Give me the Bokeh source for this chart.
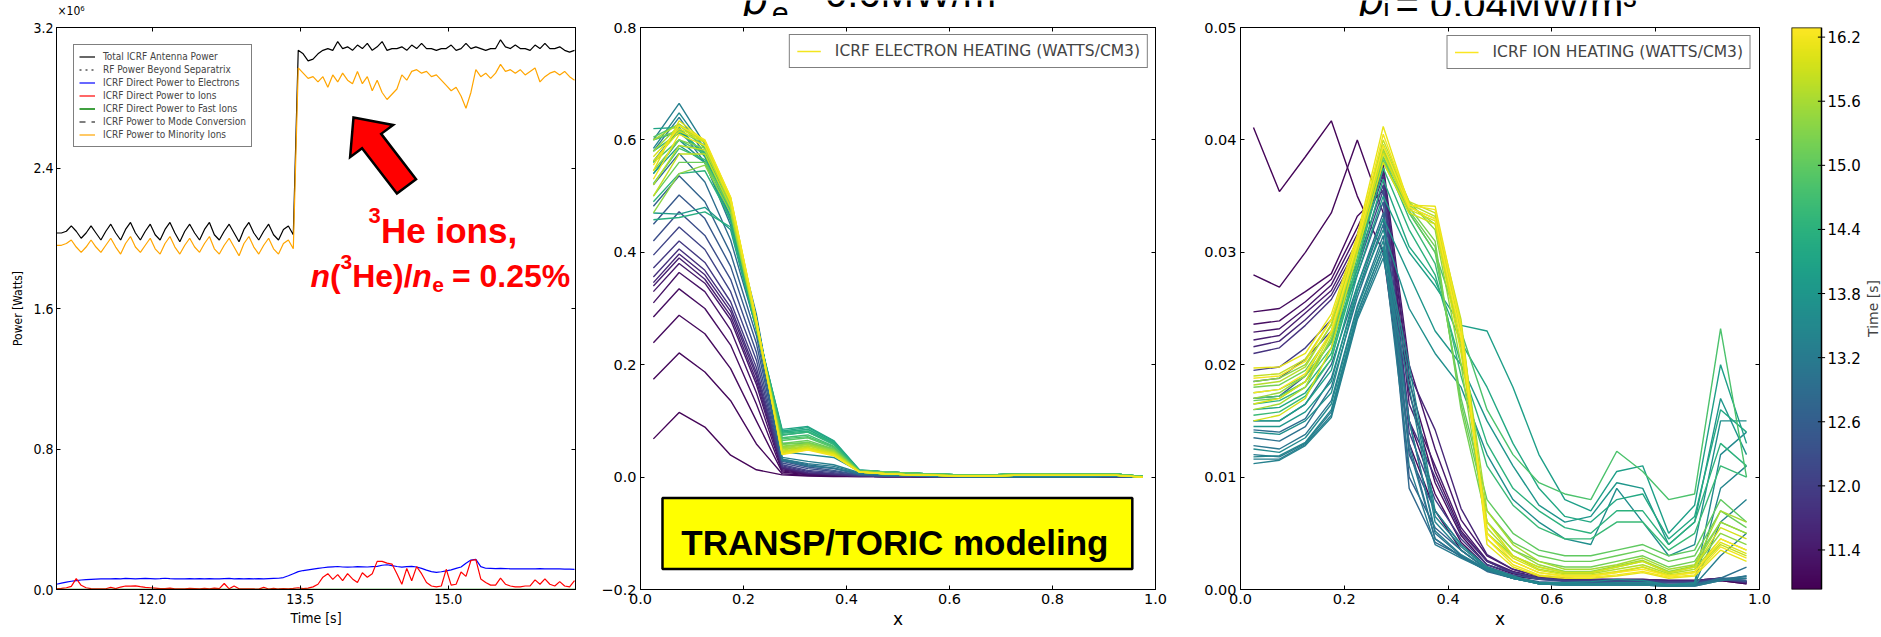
import numpy as np
from bokeh.plotting import figure
from bokeh.layouts import row, column
from bokeh.models import (Range1d, FixedTicker, PrintfTickFormatter, CustomJSTickFormatter,
                          LinearAxis, Legend, LegendItem, Label, BoxAnnotation,
                          LinearColorMapper, ColumnDataSource)
from bokeh.palettes import Viridis256
from bokeh.core.properties import value
from bokeh.embed import file_html
from bokeh.resources import INLINE

# ---------------- panel 1 data (power in units of 1e6 W) ----------------
time_s = [11.03, 11.08, 11.13, 11.18, 11.23, 11.28, 11.33, 11.38, 11.43, 11.48,
          11.53, 11.58, 11.63, 11.68, 11.73, 11.78, 11.83, 11.88, 11.93, 11.98,
          12.03, 12.08, 12.13, 12.18, 12.23, 12.28, 12.33, 12.38, 12.43, 12.48,
          12.53, 12.58, 12.63, 12.68, 12.73, 12.78, 12.83, 12.88, 12.93, 12.98,
          13.03, 13.08, 13.13, 13.18, 13.23, 13.28, 13.33, 13.38, 13.43, 13.48,
          13.53, 13.58, 13.63, 13.68, 13.73, 13.78, 13.83, 13.88, 13.93, 13.98,
          14.03, 14.08, 14.13, 14.18, 14.23, 14.28, 14.33, 14.38, 14.43, 14.48,
          14.53, 14.58, 14.63, 14.68, 14.73, 14.78, 14.83, 14.88, 14.93, 14.98,
          15.03, 15.08, 15.13, 15.18, 15.23, 15.28, 15.33, 15.38, 15.43, 15.48,
          15.53, 15.58, 15.63, 15.68, 15.73, 15.78, 15.83, 15.88, 15.93, 15.98,
          16.03, 16.08, 16.13, 16.18, 16.23, 16.28]

total_power = [2.03, 2.03, 2.04, 2.07, 2.04, 2.00, 2.03, 2.07, 2.03, 1.99,
               2.04, 2.08, 2.03, 1.99, 2.05, 2.09, 2.03, 1.99, 2.04, 2.08,
               2.02, 1.99, 2.05, 2.09, 2.03, 1.98, 2.04, 2.08, 2.03, 1.99,
               2.05, 2.09, 2.02, 1.99, 2.04, 2.08, 2.03, 1.98, 2.05, 2.09,
               2.03, 1.99, 2.04, 2.08, 2.02, 1.99, 2.05, 2.07, 2.02, 3.07,
               3.05, 3.01, 3.02, 3.05, 3.07, 3.08, 3.07, 3.12, 3.08, 3.09,
               3.07, 3.10, 3.08, 3.11, 3.07, 3.09, 3.12, 3.07, 3.08, 3.08,
               3.09, 3.07, 3.10, 3.08, 3.11, 3.08, 3.08, 3.07, 3.08, 3.08,
               3.10, 3.07, 3.08, 3.11, 3.08, 3.09, 3.08, 3.07, 3.08, 3.08,
               3.13, 3.09, 3.08, 3.10, 3.08, 3.08, 3.07, 3.10, 3.08, 3.11,
               3.08, 3.08, 3.09, 3.07, 3.06, 3.07]

minority_power = [1.96, 1.96, 1.97, 1.99, 1.95, 1.92, 1.95, 1.99, 1.95, 1.92,
                  1.96, 2.00, 1.95, 1.91, 1.97, 2.01, 1.95, 1.92, 1.96, 2.00,
                  1.94, 1.91, 1.97, 2.01, 1.95, 1.91, 1.96, 2.00, 1.95, 1.92,
                  1.97, 2.01, 1.94, 1.91, 1.96, 2.00, 1.95, 1.90, 1.97, 2.01,
                  1.95, 1.91, 1.96, 2.00, 1.94, 1.91, 1.97, 1.99, 1.94, 2.97,
                  2.94, 2.91, 2.92, 2.89, 2.92, 2.86, 2.93, 2.89, 2.94, 2.90,
                  2.88, 2.95, 2.88, 2.92, 2.84, 2.90, 2.83, 2.79, 2.82, 2.85,
                  2.93, 2.90, 2.95, 2.96, 2.94, 2.95, 2.92, 2.93, 2.90, 2.87,
                  2.84, 2.86, 2.81, 2.74, 2.83, 2.96, 2.92, 2.94, 2.91, 2.94,
                  2.99, 2.95, 2.96, 2.94, 2.96, 2.93, 2.95, 2.97, 2.89, 2.92,
                  2.94, 2.95, 2.93, 2.95, 2.92, 2.90]

electron_power = [0.030, 0.036, 0.042, 0.047, 0.051, 0.054, 0.056, 0.058, 0.059, 0.060,
                  0.061, 0.060, 0.062, 0.061, 0.063, 0.062, 0.061, 0.062, 0.063, 0.062,
                  0.061, 0.062, 0.064, 0.062, 0.061, 0.060, 0.061, 0.062, 0.061, 0.062,
                  0.061, 0.062, 0.061, 0.060, 0.062, 0.063, 0.061, 0.062, 0.061, 0.062,
                  0.061, 0.062, 0.061, 0.062, 0.063, 0.064, 0.068, 0.078, 0.090, 0.102,
                  0.108, 0.112, 0.116, 0.120, 0.124, 0.127, 0.129, 0.131, 0.128, 0.127,
                  0.128, 0.130, 0.129, 0.128, 0.130, 0.132, 0.138, 0.141, 0.136, 0.131,
                  0.127, 0.130, 0.132, 0.128, 0.120, 0.110, 0.102, 0.098, 0.101, 0.106,
                  0.112, 0.120, 0.128, 0.150, 0.168, 0.172, 0.130, 0.121, 0.120, 0.119,
                  0.120, 0.119, 0.118, 0.117, 0.118, 0.118, 0.117, 0.118, 0.119, 0.118,
                  0.117, 0.118, 0.117, 0.116, 0.116, 0.115]

ion_power = [0.004, 0.006, 0.010, 0.018, 0.062, 0.024, 0.010, 0.005, 0.003, 0.003,
             0.004, 0.012, 0.005, 0.014, 0.020, 0.019, 0.021, 0.016, 0.012, 0.010,
             0.008, 0.005, 0.005, 0.008, 0.004, 0.003, 0.004, 0.006, 0.005, 0.004,
             0.006, 0.004, 0.008, 0.005, 0.034, 0.004, 0.020, 0.004, 0.003, 0.004,
             0.003, 0.002, 0.012, 0.003, 0.006, 0.003, 0.005, 0.004, 0.006, 0.010,
             0.005, 0.008, 0.015, 0.030, 0.070, 0.090, 0.058, 0.085, 0.050, 0.090,
             0.060, 0.040, 0.095, 0.070, 0.090, 0.160, 0.160, 0.150, 0.145, 0.090,
             0.030, 0.120, 0.050, 0.130, 0.090, 0.040, 0.020, 0.015, 0.020, 0.115,
             0.025, 0.030, 0.100, 0.075, 0.165, 0.170, 0.060, 0.040, 0.025, 0.025,
             0.065, 0.030, 0.020, 0.015, 0.015, 0.020, 0.020, 0.055, 0.030, 0.060,
             0.030, 0.020, 0.045, 0.020, 0.015, 0.050]

edge_times = [11.03, 16.29]
separatrix_power = [0.0, 0.0]
fast_ion_power = [0.0, 0.0]
mode_conversion_power = [0.0, 0.0]

# ---------------- panels 2 & 3 data ----------------
rho = [0.025, 0.075, 0.125, 0.175, 0.225, 0.275, 0.325, 0.375, 0.425, 0.475,
       0.525, 0.575, 0.625, 0.675, 0.725, 0.775, 0.825, 0.875, 0.925, 0.975]

ele_times = [11.10, 11.14, 11.18, 11.22, 11.30, 11.40, 11.50, 11.60, 11.75, 11.90,
             12.10, 12.30, 12.50, 12.70, 12.90, 13.10, 13.20, 13.30, 13.50, 13.60,
             13.70, 13.90, 14.00, 14.10, 14.20, 14.30, 14.40, 14.50, 14.70, 14.80,
             14.90, 15.10, 15.20, 15.30, 15.40, 15.50, 15.60, 15.70, 15.80, 15.90,
             16.00, 16.05, 16.15, 16.20]

ele_profiles = [
    [.068, .115, .089, .039, .013, .004, .002, .001, .001, .001, .001, .000, .000, .000, .000, .000, .000, .000, .000, .000],
    [.174, .221, .187, .136, .059, .006, .003, .002, .001, .001, .001, .000, .000, .000, .000, .000, .000, .000, .000, .000],
    [.239, .288, .255, .193, .100, .009, .004, .003, .002, .001, .001, .000, .000, .000, .000, .000, .000, .000, .000, .000],
    [.285, .335, .300, .235, .130, .011, .005, .003, .002, .001, .001, .000, .000, .000, .000, .000, .000, .000, .000, .000],
    [.310, .364, .330, .262, .150, .013, .006, .004, .002, .001, .001, .000, .000, .000, .000, .000, .000, .000, .000, .000],
    [.330, .380, .345, .280, .165, .015, .006, .004, .002, .001, .001, .000, .000, .000, .000, .000, .000, .000, .000, .000],
    [.340, .390, .352, .287, .172, .016, .007, .004, .002, .001, .001, .000, .000, .000, .000, .000, .000, .000, .000, .000],
    [.346, .397, .360, .295, .180, .017, .007, .005, .002, .001, .001, .000, .000, .000, .000, .000, .000, .000, .000, .000],
    [.356, .406, .368, .302, .186, .018, .008, .005, .002, .001, .001, .000, .000, .000, .000, .000, .000, .000, .000, .000],
    [.372, .420, .382, .312, .195, .020, .010, .006, .003, .002, .002, .001, .001, .001, .001, .001, .001, .001, .001, .000],
    [.395, .445, .405, .330, .208, .022, .012, .008, .003, .002, .002, .001, .001, .001, .001, .001, .001, .001, .001, .000],
    [.420, .472, .430, .352, .222, .025, .015, .010, .004, .002, .002, .001, .001, .001, .001, .001, .001, .001, .001, .000],
    [.450, .502, .460, .375, .238, .028, .018, .012, .004, .002, .002, .001, .001, .001, .001, .001, .001, .001, .001, .000],
    [.482, .536, .490, .398, .252, .030, .020, .015, .005, .002, .002, .001, .001, .001, .001, .001, .001, .001, .001, .000],
    [.520, .576, .525, .422, .265, .032, .022, .016, .006, .004, .003, .002, .001, .001, .001, .001, .001, .001, .002, .000],
    [.562, .620, .560, .448, .278, .030, .020, .016, .006, .004, .003, .002, .001, .001, .001, .001, .001, .001, .002, .000],
    [.580, .640, .575, .460, .284, .032, .024, .019, .007, .004, .003, .002, .001, .001, .001, .001, .001, .001, .002, .000],
    [.600, .665, .592, .472, .290, .035, .028, .022, .008, .004, .003, .002, .001, .001, .001, .001, .001, .001, .002, .000],
    [.585, .648, .585, .470, .285, .045, .040, .035, .010, .004, .003, .002, .001, .001, .001, .001, .001, .001, .002, .000],
    [.560, .620, .570, .462, .280, .052, .050, .042, .011, .009, .007, .005, .004, .004, .005, .006, .005, .005, .005, .001],
    [.540, .600, .560, .458, .275, .060, .060, .050, .012, .009, .007, .005, .004, .004, .005, .006, .005, .005, .005, .001],
    [.470, .468, .480, .440, .262, .075, .080, .060, .012, .009, .007, .005, .004, .004, .005, .006, .005, .005, .005, .001],
    [.540, .590, .560, .455, .270, .080, .085, .062, .012, .009, .007, .005, .004, .004, .005, .006, .005, .005, .005, .001],
    [.620, .622, .572, .470, .268, .085, .090, .065, .013, .009, .007, .005, .004, .004, .005, .006, .005, .005, .005, .001],
    [.600, .615, .575, .470, .270, .082, .088, .064, .012, .009, .007, .005, .004, .004, .005, .006, .005, .005, .005, .001],
    [.458, .462, .472, .445, .262, .080, .085, .062, .012, .009, .007, .005, .004, .004, .005, .006, .005, .005, .005, .001],
    [.490, .540, .545, .460, .266, .078, .082, .060, .012, .009, .007, .005, .004, .004, .005, .006, .005, .005, .005, .001],
    [.580, .612, .578, .480, .270, .075, .080, .058, .012, .009, .007, .005, .004, .004, .005, .006, .005, .005, .005, .001],
    [.522, .585, .565, .475, .268, .070, .075, .055, .011, .009, .007, .005, .004, .004, .005, .006, .005, .005, .005, .001],
    [.560, .600, .575, .478, .270, .068, .072, .054, .011, .009, .007, .005, .004, .004, .005, .006, .005, .005, .005, .001],
    [.605, .628, .585, .485, .272, .065, .070, .052, .011, .009, .007, .005, .004, .004, .005, .006, .005, .005, .005, .001],
    [.500, .560, .560, .478, .270, .060, .065, .050, .011, .009, .007, .005, .004, .004, .005, .006, .005, .005, .005, .001],
    [.600, .618, .590, .485, .274, .058, .062, .049, .010, .006, .004, .003, .002, .002, .003, .003, .003, .003, .003, .000],
    [.545, .600, .585, .488, .272, .055, .060, .048, .010, .006, .004, .003, .002, .002, .003, .003, .003, .003, .003, .000],
    [.470, .540, .555, .470, .268, .054, .059, .047, .010, .006, .004, .003, .002, .002, .003, .003, .003, .003, .003, .000],
    [.580, .625, .595, .492, .275, .052, .058, .046, .010, .006, .004, .003, .002, .002, .003, .003, .003, .003, .003, .000],
    [.600, .628, .597, .492, .276, .050, .056, .045, .010, .006, .004, .003, .002, .002, .003, .003, .003, .003, .003, .000],
    [.520, .590, .582, .488, .272, .048, .055, .044, .010, .006, .004, .003, .002, .002, .003, .003, .003, .003, .003, .000],
    [.500, .575, .575, .480, .270, .046, .053, .043, .009, .006, .004, .003, .002, .002, .003, .003, .003, .003, .003, .000],
    [.562, .615, .596, .495, .278, .045, .052, .042, .009, .006, .004, .003, .002, .002, .003, .003, .003, .003, .003, .000],
    [.570, .620, .598, .495, .279, .044, .051, .041, .009, .006, .004, .003, .002, .002, .003, .003, .003, .003, .003, .000],
    [.545, .634, .598, .498, .280, .042, .050, .040, .009, .006, .004, .003, .002, .002, .003, .003, .003, .003, .003, .000],
    [.530, .610, .590, .490, .276, .041, .049, .039, .009, .006, .004, .003, .002, .002, .003, .003, .003, .003, .003, .000],
    [.555, .626, .600, .498, .280, .040, .048, .038, .009, .006, .004, .003, .002, .002, .003, .003, .003, .003, .003, .000],
]

ion_times = [11.10, 11.14, 11.18, 11.25, 11.35, 11.45, 11.60, 11.80, 12.00, 12.30,
             12.60, 12.80, 12.90, 13.00, 13.10, 13.20, 13.28, 13.35, 13.42, 13.50,
             13.65, 13.80, 14.00, 14.20, 14.40, 14.60, 14.80, 15.00, 15.10, 15.20,
             15.40, 15.50, 15.60, 15.70, 15.80, 15.95, 16.00, 16.10, 16.20, 16.25]

ion_profiles = [
    [.0411, .0354, .0385, .0417, .0350, .0300, .0130, .0070, .0035, .0018, .0012, .0009, .0008, .0008, .0008, .0008, .0007, .0007, .0008, .0005],
    [.0280, .0269, .0300, .0335, .0400, .0335, .0150, .0085, .0042, .0020, .0012, .0010, .0008, .0008, .0008, .0008, .0007, .0007, .0008, .0005],
    [.0247, .0250, .0265, .0281, .0332, .0355, .0175, .0095, .0048, .0022, .0014, .0010, .0008, .0008, .0008, .0008, .0007, .0007, .0009, .0006],
    [.0236, .0239, .0256, .0276, .0322, .0370, .0185, .0105, .0052, .0025, .0015, .0010, .0008, .0008, .0008, .0008, .0007, .0007, .0009, .0006],
    [.0229, .0232, .0250, .0271, .0316, .0378, .0200, .0125, .0062, .0030, .0018, .0012, .0010, .0009, .0009, .0009, .0008, .0008, .0010, .0007],
    [.0222, .0226, .0246, .0266, .0310, .0376, .0165, .0110, .0055, .0026, .0016, .0011, .0009, .0009, .0009, .0009, .0008, .0008, .0010, .0007],
    [.0216, .0221, .0240, .0262, .0305, .0372, .0192, .0142, .0072, .0031, .0018, .0012, .0010, .0009, .0009, .0009, .0008, .0008, .0010, .0007],
    [.0210, .0215, .0235, .0258, .0300, .0368, .0150, .0100, .0050, .0025, .0015, .0010, .0008, .0008, .0008, .0008, .0007, .0007, .0009, .0006],
    [.0195, .0198, .0215, .0240, .0290, .0360, .0140, .0080, .0045, .0022, .0015, .0010, .0008, .0008, .0008, .0008, .0007, .0007, .0010, .0008],
    [.0185, .0188, .0205, .0230, .0285, .0355, .0120, .0070, .0040, .0020, .0013, .0009, .0007, .0007, .0007, .0007, .0006, .0006, .0009, .0007],
    [.0170, .0172, .0190, .0220, .0280, .0345, .0100, .0055, .0035, .0018, .0011, .0007, .0006, .0006, .0006, .0006, .0005, .0005, .0009, .0008],
    [.0150, .0150, .0165, .0200, .0270, .0335, .0090, .0042, .0030, .0016, .0010, .0006, .0005, .0005, .0005, .0005, .0004, .0004, .0010, .0010],
    [.0142, .0140, .0152, .0188, .0265, .0330, .0130, .0045, .0029, .0017, .0010, .0006, .0005, .0005, .0005, .0005, .0004, .0004, .0009, .0012],
    [.0135, .0132, .0145, .0180, .0260, .0325, .0150, .0050, .0030, .0018, .0010, .0006, .0005, .0005, .0005, .0005, .0004, .0004, .0010, .0020],
    [.0128, .0125, .0138, .0168, .0252, .0315, .0125, .0045, .0029, .0017, .0010, .0005, .0004, .0004, .0004, .0004, .0003, .0003, .0008, .0012],
    [.0120, .0118, .0130, .0158, .0245, .0305, .0110, .0040, .0028, .0017, .0010, .0005, .0004, .0004, .0004, .0004, .0003, .0003, .0008, .0010],
    [.0116, .0116, .0129, .0155, .0242, .0300, .0150, .0052, .0031, .0018, .0010, .0005, .0004, .0004, .0004, .0004, .0003, .0004, .0030, .0050],
    [.0112, .0115, .0128, .0153, .0240, .0295, .0180, .0060, .0035, .0018, .0010, .0005, .0004, .0004, .0004, .0004, .0003, .0004, .0060, .0080],
    [.0118, .0119, .0131, .0160, .0246, .0305, .0190, .0065, .0038, .0019, .0011, .0005, .0005, .0005, .0006, .0006, .0004, .0005, .0090, .0110],
    [.0125, .0122, .0135, .0165, .0250, .0310, .0200, .0070, .0040, .0020, .0012, .0006, .0006, .0007, .0009, .0008, .0004, .0006, .0120, .0140],
    [.0140, .0138, .0150, .0175, .0265, .0320, .0250, .0210, .0180, .0120, .0080, .0060, .0045, .0040, .0090, .0060, .0030, .0040, .0150, .0150],
    [.0145, .0145, .0158, .0185, .0270, .0330, .0280, .0230, .0200, .0150, .0110, .0075, .0060, .0065, .0095, .0090, .0040, .0060, .0170, .0120],
    [.0150, .0150, .0165, .0195, .0280, .0350, .0300, .0270, .0235, .0230, .0180, .0120, .0080, .0070, .0105, .0110, .0050, .0075, .0200, .0130],
    [.0160, .0162, .0175, .0205, .0285, .0365, .0305, .0275, .0220, .0180, .0130, .0090, .0065, .0060, .0080, .0085, .0045, .0065, .0160, .0140],
    [.0165, .0168, .0180, .0210, .0290, .0375, .0320, .0280, .0200, .0130, .0090, .0070, .0055, .0050, .0070, .0070, .0040, .0060, .0130, .0110],
    [.0155, .0158, .0172, .0205, .0290, .0385, .0330, .0290, .0190, .0110, .0075, .0055, .0045, .0045, .0060, .0060, .0035, .0050, .0110, .0100],
    [.0170, .0172, .0185, .0215, .0295, .0390, .0335, .0300, .0230, .0160, .0120, .0095, .0085, .0080, .0123, .0105, .0080, .0085, .0232, .0100],
    [.0175, .0178, .0190, .0220, .0300, .0380, .0335, .0300, .0170, .0080, .0050, .0035, .0030, .0030, .0035, .0040, .0030, .0035, .0080, .0060],
    [.0168, .0170, .0185, .0222, .0302, .0382, .0337, .0305, .0165, .0070, .0042, .0030, .0025, .0025, .0030, .0035, .0025, .0030, .0070, .0055],
    [.0180, .0182, .0195, .0228, .0305, .0385, .0340, .0310, .0160, .0060, .0035, .0025, .0020, .0020, .0025, .0030, .0020, .0025, .0060, .0050],
    [.0185, .0188, .0200, .0235, .0310, .0395, .0345, .0320, .0200, .0050, .0030, .0020, .0015, .0015, .0020, .0025, .0015, .0020, .0050, .0040],
    [.0170, .0175, .0190, .0230, .0308, .0392, .0342, .0325, .0215, .0060, .0035, .0022, .0016, .0016, .0021, .0026, .0016, .0021, .0060, .0050],
    [.0160, .0165, .0180, .0225, .0305, .0390, .0340, .0330, .0230, .0070, .0040, .0025, .0018, .0018, .0022, .0028, .0018, .0022, .0070, .0060],
    [.0182, .0185, .0198, .0236, .0310, .0396, .0343, .0332, .0235, .0055, .0030, .0018, .0014, .0014, .0018, .0022, .0014, .0018, .0045, .0035],
    [.0190, .0192, .0205, .0240, .0312, .0400, .0345, .0335, .0240, .0045, .0025, .0015, .0012, .0012, .0015, .0020, .0012, .0015, .0040, .0030],
    [.0150, .0155, .0170, .0215, .0300, .0380, .0335, .0325, .0210, .0060, .0030, .0020, .0015, .0015, .0020, .0025, .0015, .0020, .0055, .0045],
    [.0165, .0170, .0185, .0228, .0305, .0388, .0338, .0328, .0220, .0050, .0028, .0017, .0013, .0013, .0016, .0020, .0013, .0016, .0042, .0032],
    [.0197, .0198, .0210, .0245, .0315, .0412, .0342, .0341, .0235, .0040, .0020, .0012, .0010, .0010, .0012, .0015, .0010, .0012, .0035, .0025],
    [.0188, .0190, .0203, .0240, .0312, .0405, .0342, .0338, .0232, .0045, .0022, .0013, .0011, .0011, .0013, .0016, .0011, .0013, .0038, .0028],
    [.0175, .0178, .0192, .0230, .0308, .0395, .0340, .0330, .0225, .0050, .0025, .0015, .0012, .0012, .0015, .0018, .0012, .0015, .0045, .0035],
]

colorbar_range = [11.03, 16.29]
colorbar_ticks = [11.4, 12.0, 12.6, 13.2, 13.8, 14.4, 15.0, 15.6, 16.2]

# ---------------- styling helpers ----------------
MPL = "DejaVu Sans"
COND = "DejaVu Sans Condensed"
ARIAL = "Liberation Sans"
STRIP_H = 16          # thin strip on top holding the (cut-off) panel titles
ROW_H = 637 - STRIP_H
PROFILE_LW = 1.4


def style_fig(p):
    p.xgrid.grid_line_color = None
    p.ygrid.grid_line_color = None
    p.outline_line_color = "black"
    p.outline_line_alpha = 1.0
    p.outline_line_width = 1
    p.background_fill_color = "white"
    p.border_fill_color = "white"


def style_axis(ax, ticks, formatter=None, font=MPL, size="14px", labels=True):
    ax.ticker = FixedTicker(ticks=ticks)
    ax.minor_tick_line_color = None
    ax.major_tick_in = 4
    ax.major_tick_out = 0
    ax.major_tick_line_color = "black"
    ax.axis_line_color = "black"
    if labels:
        if formatter is not None:
            ax.formatter = formatter
        ax.major_label_text_font = font
        ax.major_label_text_font_size = size
        ax.major_label_text_color = "black"
        ax.major_label_standoff = 4
    else:
        ax.formatter = CustomJSTickFormatter(code="return '';")
        ax.major_label_text_font_size = "0px"
        ax.major_label_standoff = 0


def mirror_axes(p, xticks, yticks):
    top = LinearAxis()
    style_axis(top, xticks, labels=False)
    right = LinearAxis()
    style_axis(right, yticks, labels=False)
    p.add_layout(top, "above")
    p.add_layout(right, "right")


def axis_label(ax, text, font, size, standoff):
    ax.axis_label = text
    ax.axis_label_text_font = font
    ax.axis_label_text_font_size = size
    ax.axis_label_text_font_style = "normal"
    ax.axis_label_text_color = "black"
    ax.axis_label_standoff = standoff


# ---------------- panel 1 ----------------
X1 = (11.03, 16.29)
Y1 = (0.0, 3.2)
p1 = figure(width=590, height=ROW_H, x_range=Range1d(*X1), y_range=Range1d(*Y1),
            min_border_left=56, min_border_right=15, min_border_top=25 - STRIP_H,
            min_border_bottom=43, toolbar_location=None, output_backend="svg")
style_fig(p1)
x1ticks = [12.0, 13.5, 15.0]
y1ticks = [0.0, 0.8, 1.6, 2.4, 3.2]
style_axis(p1.xaxis[0], x1ticks, PrintfTickFormatter(format="%.1f"), COND, "14px")
style_axis(p1.yaxis[0], y1ticks, PrintfTickFormatter(format="%.1f"), COND, "14px")
p1.yaxis[0].major_label_standoff = 3
axis_label(p1.xaxis[0], "Time [s]", COND, "14px", 3)
axis_label(p1.yaxis[0], "Power [Watts]", COND, "12px", 5)
mirror_axes(p1, x1ticks, y1ticks)

r_total = p1.line(time_s, total_power, line_color="black", line_width=1.2)
r_sep = p1.line(edge_times, separatrix_power, line_color="black", line_dash="dotted", line_width=1.2)
r_ele = p1.line(time_s, electron_power, line_color="#0000ff", line_width=1.2)
r_ion = p1.line(time_s, ion_power, line_color="#ff0000", line_width=1.2)
r_fast = p1.line(edge_times, fast_ion_power, line_color="#008000", line_width=1.5)
r_mc = p1.line(edge_times, mode_conversion_power, line_color="black", line_dash="dashed", line_width=1.2)
r_min = p1.line(time_s, minority_power, line_color="#ffa500", line_width=1.2)

leg1 = Legend(items=[
    LegendItem(label="Total ICRF Antenna Power", renderers=[r_total]),
    LegendItem(label="RF Power Beyond Separatrix", renderers=[r_sep]),
    LegendItem(label="ICRF Direct Power to Electrons", renderers=[r_ele]),
    LegendItem(label="ICRF Direct Power to Ions", renderers=[r_ion]),
    LegendItem(label="ICRF Direct Power to Fast Ions", renderers=[r_fast]),
    LegendItem(label="ICRF Power to Mode Conversion", renderers=[r_mc]),
    LegendItem(label="ICRF Power to Minority Ions", renderers=[r_min]),
], location="top_left", margin=17, padding=5, spacing=0, label_height=13, glyph_height=13,
    glyph_width=16, label_standoff=8, label_text_font=COND, label_text_font_size="10px",
    border_line_color="black", border_line_width=1.2, background_fill_color="white",
    background_fill_alpha=1.0)
p1.add_layout(leg1)

# red arrow (tip/tail in data coordinates, widths in pixels)
F1_W, F1_H = 519.0, 569.0
arrow_tip = (14.04, 2.688)
arrow_tail = (14.577, 2.295)


def d2p(t, v):
    return np.array([(t - X1[0]) / (X1[1] - X1[0]) * F1_W, v / (Y1[1] - Y1[0]) * F1_H])


def p2d(pt):
    return (X1[0] + pt[0] / F1_W * (X1[1] - X1[0]), pt[1] / F1_H * (Y1[1] - Y1[0]))


tip = d2p(*arrow_tip)
tail = d2p(*arrow_tail)
dvec = (tip - tail) / np.linalg.norm(tip - tail)
nvec = np.array([-dvec[1], dvec[0]])
shaft_half, head_half, head_len = 12.0, 27.0, 30.0
base = tip - dvec * head_len
poly_px = [tail + nvec * shaft_half, base + nvec * shaft_half, base + nvec * head_half, tip,
           base - nvec * head_half, base - nvec * shaft_half, tail - nvec * shaft_half]
poly = [p2d(q) for q in poly_px]
p1.patch([q[0] for q in poly], [q[1] for q in poly], fill_color="#ff0000",
         line_color="black", line_width=2.5, line_join="miter")

RED = "#ff0000"
line1_anchor = (14.192, 2.046)
line2_anchor = (13.604, 1.785)
for anchor, pieces in [
        (line1_anchor, [("3", 0, 15, "bold", "22px"),
                        ("He ions,", 12.5, 0, "bold", "35px")]),
        (line2_anchor, [("n", 0, 0, "bold italic", "32px"),
                        ("(", 19.5, 0, "bold", "32px"),
                        ("3", 30, 14, "bold", "21px"),
                        ("He)/", 41.7, 0, "bold", "32px"),
                        ("n", 101.8, 0, "bold italic", "32px"),
                        ("e", 121.7, -9, "bold", "21px"),
                        ("= 0.25%", 141.5, 0, "bold", "32px")])]:
    for txt, dx, dy, style, size in pieces:
        p1.add_layout(Label(x=anchor[0], y=anchor[1], x_offset=dx, y_offset=dy, text=txt,
                            text_font=ARIAL, text_font_style=style, text_font_size=size,
                            text_color=RED, text_baseline="alphabetic"))

# ---------------- shared colour mapping ----------------
mapper = LinearColorMapper(palette=Viridis256, low=colorbar_range[0], high=colorbar_range[1])
xprof_ticks = [0.0, 0.2, 0.4, 0.6, 0.8, 1.0]

# ---------------- panel 2 ----------------
p2 = figure(width=600, height=ROW_H, x_range=Range1d(0, 1), y_range=Range1d(-0.2, 0.8),
            min_border_left=50, min_border_right=35, min_border_top=27 - STRIP_H,
            min_border_bottom=48, toolbar_location=None, output_backend="svg")
style_fig(p2)
y2ticks = [-0.2, 0.0, 0.2, 0.4, 0.6, 0.8]
style_axis(p2.xaxis[0], xprof_ticks, PrintfTickFormatter(format="%.1f"), MPL, "14.5px")
style_axis(p2.yaxis[0], y2ticks,
           CustomJSTickFormatter(code="return (tick < -1e-9 ? '\u2212' : '') + Math.abs(tick).toFixed(1);"),
           MPL, "14.5px")
axis_label(p2.xaxis[0], "x", MPL, "17px", 2)
mirror_axes(p2, xprof_ticks, y2ticks)

src2 = ColumnDataSource(dict(xs=[rho] * len(ele_profiles), ys=ele_profiles, t=ele_times))
r2 = p2.multi_line("xs", "ys", source=src2, line_width=PROFILE_LW,
                   line_color={"field": "t", "transform": mapper})
leg2 = Legend(items=[LegendItem(label="ICRF ELECTRON HEATING (WATTS/CM3)", renderers=[r2],
                                index=len(ele_times) - 1)],
              location="top_right", margin=7, padding=7, label_height=14, glyph_height=14,
              glyph_width=24, label_standoff=14, label_text_font=MPL, label_text_font_size="15.5px",
              border_line_color="black", border_line_width=1.2, background_fill_alpha=1.0)
p2.add_layout(leg2)

p2.add_layout(BoxAnnotation(left=0.0427, right=0.955, bottom=-0.1636, top=-0.0373,
                            fill_color="#ffff00", fill_alpha=1.0, line_color="black",
                            line_width=2.5, line_alpha=1.0))
p2.add_layout(Label(x=0.494, y=-0.116, text="TRANSP/TORIC modeling", text_align="center",
                    text_font=ARIAL, text_font_style="bold", text_font_size="35px",
                    text_color="black", text_baseline="alphabetic"))

# ---------------- panel 3 ----------------
p3 = figure(width=589, height=ROW_H, x_range=Range1d(0, 1), y_range=Range1d(0, 0.05),
            min_border_left=50, min_border_right=20, min_border_top=23 - STRIP_H,
            min_border_bottom=47, toolbar_location=None, output_backend="svg")
style_fig(p3)
y3ticks = [0.0, 0.01, 0.02, 0.03, 0.04, 0.05]
style_axis(p3.xaxis[0], xprof_ticks, PrintfTickFormatter(format="%.1f"), MPL, "14.5px")
style_axis(p3.yaxis[0], y3ticks, PrintfTickFormatter(format="%.2f"), MPL, "14.5px")
axis_label(p3.xaxis[0], "x", MPL, "17px", 2)
mirror_axes(p3, xprof_ticks, y3ticks)

src3 = ColumnDataSource(dict(xs=[rho] * len(ion_profiles), ys=ion_profiles, t=ion_times))
r3 = p3.multi_line("xs", "ys", source=src3, line_width=PROFILE_LW,
                   line_color={"field": "t", "transform": mapper})
leg3 = Legend(items=[LegendItem(label="ICRF ION HEATING (WATTS/CM3)", renderers=[r3],
                                index=len(ion_times) - 1)],
              location="top_right", margin=8, padding=7, label_height=14, glyph_height=14,
              glyph_width=24, label_standoff=14, label_text_font=MPL, label_text_font_size="15.5px",
              border_line_color="black", border_line_width=1.2, background_fill_alpha=1.0)
p3.add_layout(leg3)

# ---------------- colour bar (bar, ticks, labels drawn in its own frame) ----------------
p4 = figure(width=102, height=ROW_H, x_range=Range1d(0, 3),
            y_range=Range1d(colorbar_range[0], colorbar_range[1]),
            min_border_left=12, min_border_right=0, min_border_top=23 - STRIP_H,
            min_border_bottom=46, toolbar_location=None, output_backend="svg")
p4.xgrid.grid_line_color = None
p4.ygrid.grid_line_color = None
p4.axis.visible = False
p4.outline_line_color = None
p4.border_fill_color = "white"
ramp = np.linspace(colorbar_range[0], colorbar_range[1], 256).reshape(256, 1)
p4.image(image=[ramp], x=0, y=colorbar_range[0], dw=1, dh=colorbar_range[1] - colorbar_range[0],
         color_mapper=mapper)
p4.quad(left=[0], right=[1], bottom=[colorbar_range[0]], top=[colorbar_range[1]],
        fill_color=None, line_color="black", line_width=1.5)
nt = len(colorbar_ticks)
p4.segment(x0=[0.88] * nt, y0=colorbar_ticks, x1=[1.12] * nt, y1=colorbar_ticks,
           line_color="black", line_width=1)
p4.text(x=[1.2] * nt, y=colorbar_ticks, text=["%.1f" % t for t in colorbar_ticks],
        text_font=value(MPL), text_font_size=value("15px"), text_baseline="middle",
        text_align="left", text_color="black")
p4.add_layout(Label(x=2.73, y=(colorbar_range[0] + colorbar_range[1]) / 2, text="Time [s]",
                    angle=np.pi / 2, text_align="center", text_baseline="middle",
                    text_font=MPL, text_font_size="14px"))

# ---------------- top strip: exponent label and the cut-off panel titles ----------------
strip = figure(width=1881, height=STRIP_H, x_range=Range1d(0, 1881), y_range=Range1d(0, STRIP_H),
               title=None, x_axis_location=None, y_axis_location=None,
               min_border=0, toolbar_location=None, output_backend="svg")
strip.xgrid.visible = False
strip.ygrid.visible = False
strip.outline_line_color = None
strip.border_fill_color = "white"
strip.background_fill_color = "white"

# text, x (px from left), anchor (px from top), font, style, size
strip_texts = [
    ("×10⁶", 57, 10, COND, "normal", "12px"),
    ("p", 742, -1, MPL, "italic", "40px"),
    ("e", 771, 12, MPL, "normal", "28px"),
    ("= 0.6MW/m³", 790, -8, ARIAL, "normal", "40px"),
    ("p", 1358, -1, MPL, "italic", "40px"),
    ("i", 1382, 9, MPL, "normal", "28px"),
    ("= 0.04MW/m³", 1395, 3, ARIAL, "normal", "40px"),
]
for txt, xx, yy, font, style, size in strip_texts:
    strip.add_layout(Label(x=xx, y=STRIP_H - yy, text=txt, text_font=font, text_font_style=style,
                           text_font_size=size, text_baseline="alphabetic", text_color="black"))

layout = column(strip, row(p1, p2, p3, p4))
open("out.html", "w").write(file_html(layout, INLINE))
